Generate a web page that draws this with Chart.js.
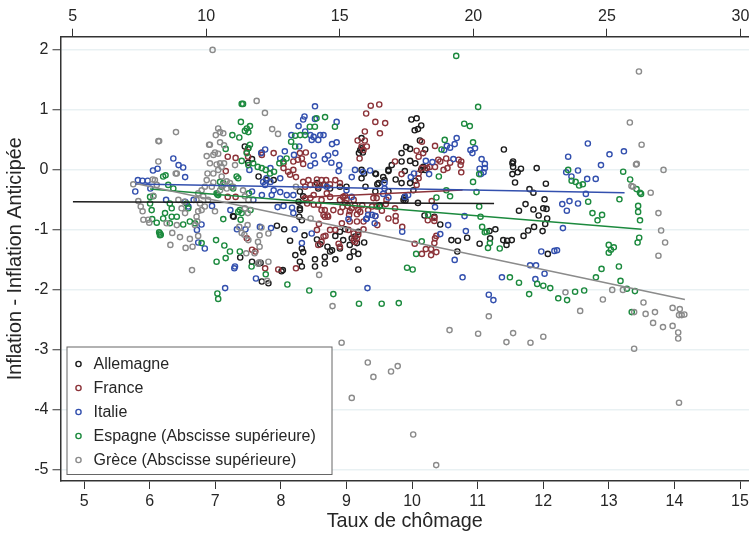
<!DOCTYPE html>
<html lang="fr">
<head>
  <meta charset="UTF-8" />
  <title>Inflation et chômage</title>
  <style>
    html, body { margin: 0; padding: 0; background: #fff; }
    canvas { display: block; }
  </style>
</head>
<body>
  <canvas id="graph" width="749" height="533"></canvas>
  <script src="https://cdn.jsdelivr.net/npm/chart.js"></script>
  <script>
    const noms = ["Allemagne", "France", "Italie", "Espagne (Abscisse supérieure)", "Grèce (Abscisse supérieure)"];
    const couleurs = ["#1c1c1c", "#8c3339", "#3350ae", "#1c8a3e", "#8b8b8b"];

    // [chômage, écart d'inflation]
    const allemagne = [[7.45,.38],[7.5,.35],[7.56,.17],[7.5,.11],[7.66,-.12],[7.78,-.18],[7.89,-.18],[7.28,-.79],[7.27,-.78],[7.94,-.94],[8.05,-1],[8.14,-1.19],[8.32,-.85],[8.29,-.68],[8.22,-1.43],[8.32,-1.32],[8.34,-1.38],[7.38,-1.47],[7.56,-1.54],[7.66,-1.57],[7.69,-1.56],[8.29,-1.54],[8.32,-1.62],[8.52,-1.62],[8.52,-1.5],[8.67,-1.46],[8.83,-1.5],[8.67,-1.57],[8.75,-1.37],[8.78,-1.35],[8.55,-1.17],[8.9,-1.32],[8.95,-1.18],[9.05,-1.26],[9.18,-1.67],[9.05,-1.46],[9.11,-1.37],[9.18,-1.41],[8.36,-1.1],[8.6,-1.25],[8.71,-1.29],[8.03,-1.68],[7.71,-1.87],[7.81,-1.9],[8.01,-1.7],[9.27,-1.22],[8.83,-1.11],[8.9,-1.04],[8.98,-1],[9.21,.32],[9.23,.35],[9.25,.28],[9.19,.27],[9.23,.52],[9.23,-.01],[9.27,-.07],[9.23,-.15],[9.44,-.07],[9.64,-.01],[9.69,.07],[9.56,-.13],[9.49,-.23],[9.75,-.17],[9.44,-.37],[9.51,-.6],[9.29,-.29],[8.55,-.23],[8.65,-.26],[8.57,-.32],[8.75,-.32],[9,-.29],[8.9,-.29],[8.29,-.37],[8.34,-.45],[8.27,-.54],[8.29,-.65],[8.28,-.79],[9.08,-1.15],[9.18,-1.04],[9.13,-1.12],[9.16,-1.23],[9.99,.83],[10.07,.85],[10.14,.73],[10.04,.65],[10.09,.67],[9.91,.37],[9.97,.34],[10.2,.33],[10.12,.48],[9.84,.27],[9.84,.13],[9.64,-.03],[9.58,-.18],[9.97,.14],[10.05,.1],[9.89,-.03],[9.84,-.23],[9.97,-.23],[10.05,-.19],[10.17,.04],[10.14,-.01],[10.2,-.01],[10.02,-.35],[9.47,-.25],[9.64,-.37],[9.89,-.46],[9.87,-.51],[10.09,-.56],[9.5,-.61],[10.19,-.77],[10.34,-.79],[10.43,-.92],[11.27,-1],[10.6,-1.18],[10.7,-1.19],[10.84,-1.14],[11.03,-1.24],[11.18,-1.03],[11.19,-1.15],[10.69,-1.37],[11.4,.33],[11.54,.13],[11.53,.1],[11.54,.04],[11.66,.01],[11.61,-.05],[11.53,-.08],[11.57,-.22],[11.9,.02],[12.04,-.24],[11.79,-.33],[11.85,-.39],[12.02,-.5],[11.73,-.58],[11.85,-.67],[11.63,-.69],[12,-.65],[12.05,-.66],[11.93,-.77],[12.06,-.82],[12.03,-.91],[11.99,-1.03],[11.86,-.96],[11.77,-1.02],[11.7,-1.11],[11.45,-1.19],[11.39,-1.18],[11.52,-1.18],[11.44,-1.26],[12.07,-1.41],[9.45,-.08],[9.88,-.48],[9.9,-.52]];

    const france = [[9.37,1.06],[9.5,1.08],[9.3,.93],[9.44,.79],[9.59,.77],[9.51,.6],[9.28,.63],[9.17,.48],[9.28,.48],[9.23,.38],[9.31,.38],[9.26,.32],[9.2,.18],[7.89,.27],[7.71,.28],[8.29,.27],[8.38,.28],[8.32,.18],[8.26,.16],[8.19,.13],[8.34,.09],[8.04,.1],[8.04,.02],[8.11,-.04],[8.19,-.01],[8.14,-.09],[8.23,-.13],[7.19,.21],[7.31,.19],[7.48,.29],[7.5,.21],[7.71,.24],[7.16,-.03],[7.19,-.46],[7.31,-.46],[7.48,-1.15],[7.56,-1.34],[7.61,-1.37],[7.76,-1.65],[7.96,-1.67],[8.23,-1.65],[8.34,-.21],[8.42,-.18],[8.55,-.17],[8.62,-.18],[8.69,-.18],[8.83,-.18],[8.9,-.23],[8.37,-.29],[8.45,-.26],[8.52,-.26],[8.57,-.29],[8.67,-.26],[8.75,-.25],[8.37,-.48],[8.45,-.48],[8.5,-.43],[8.4,-.57],[8.5,-.59],[8.62,-.51],[8.57,-.59],[8.75,-.46],[8.95,-.46],[8.7,-.4],[8.65,-.76],[8.71,-.77],[8.67,-.68],[8.9,-.51],[8.98,-.56],[9.02,-.61],[9.08,-.65],[8.94,-.63],[9.13,-.6],[9.05,-.7],[9.18,-.68],[9,-.51],[9.11,-.51],[8.91,-.71],[9.16,-.75],[9.04,-.76],[9.24,-.6],[8.98,-.44],[8.93,-.9],[9.16,-.87],[9.05,-.87],[9.64,-.82],[9.75,-.78],[9.75,-.86],[9.41,-.48],[9.46,-.48],[9.61,-.51],[9.46,-.62],[9.33,-.68],[9.21,-.71],[9.74,.13],[8.55,-1.01],[8.65,-1.12],[8.62,-1.21],[8.57,-1.26],[8.9,-1.29],[8.75,-1.01],[8.83,-1.01],[9.03,-1.01],[9.11,-1.07],[9.16,-1.15],[9.18,-1.09],[9.13,-1.21],[8.67,-.79],[8.72,-.79],[8.62,-.68],[8.8,-.68],[8.58,-.91],[8.68,-1.11],[8.88,-1.24],[9.11,-1.18],[10.35,.39],[10.15,.46],[10.07,.31],[10.1,.21],[10.17,.27],[9.84,-.08],[10.1,-.07],[10.15,.02],[10.23,.02],[10.27,.04],[10.1,-.15],[10.07,-.26],[10.4,.16],[10.43,.13],[10.52,.18],[10.58,.11],[10.54,.02],[10.48,-.01],[10.35,.04],[10.71,.16],[10.75,.13],[10.74,.07],[10.75,-.05],[10.3,-.53],[9.39,-.62],[9.54,-.69],[9.6,-.58],[9.74,-.65],[9.47,-.93],[9.26,-.87],[9.85,-.96],[10.24,-.85],[10.34,-.81],[10.34,-.86],[10.35,-1.15],[10.34,-1.23],[10.37,-1.11],[10.04,-1.24],[10.21,-1.33],[10.29,-1.33],[10.15,-1.41],[10.29,-1.43],[10.37,-1.38],[9.26,-1],[9.44,-.78]];

    const italie = [[5.78,-.37],[5.82,-.18],[5.89,-.19],[5.97,-.19],[6.01,-.32],[6.05,-.02],[6.12,.01],[6.36,.18],[6.44,.07],[6.51,.03],[6.54,-.13],[6.25,-.51],[6.54,-.54],[6.59,-.62],[6.67,-.51],[6.72,-1.01],[6.79,-.92],[6.74,-1.22],[6.84,-1.32],[6.95,-.61],[7.23,-.68],[7.33,-1],[7.46,-1],[7.68,-.96],[7.85,-.98],[8.21,-1],[8.47,-1.07],[8.32,-1.23],[9.03,-.83],[9.31,-.82],[9.39,-.76],[7.3,-1.62],[7.15,-1.98],[7.62,-1.82],[7.29,-1.65],[9.32,-1.98],[8.52,1.05],[8.36,.88],[8.34,.83],[8.52,.84],[8.27,.72],[8.85,.79],[8.37,.63],[8.45,.57],[8.5,.54],[8.47,.49],[8.57,.49],[8.6,.57],[8.65,.57],[8.16,.57],[8.78,.42],[8.85,.45],[8.28,.38],[8.06,.3],[7.76,.33],[7.7,.27],[8.2,.24],[8.5,.23],[7.99,.18],[8.72,.23],[8.83,.27],[8.67,.17],[8.77,.11],[8.45,.06],[8.52,.1],[8.89,.07],[8.88,-.03],[7.84,.02],[7.99,-.15],[7.52,-.01],[7.78,-.15],[7.73,-.21],[7.84,-.21],[7.76,-.26],[7.89,-.35],[7.86,-.43],[7.99,-.38],[8.09,-.43],[8.19,-.43],[7.56,-.37],[7.58,-.51],[7.71,-.43],[7.95,-.63],[8.04,-.61],[8.17,-.64],[8.19,-.73],[9.13,-.01],[9.08,-.13],[9.36,-.02],[9.25,-.04],[9.58,-.23],[9.58,-.32],[9.56,-.41],[9.08,-.46],[9.33,-.76],[9.3,-.83],[9.44,-.78],[9.43,-.9],[8.7,-.29],[9,-.35],[9.64,-.47],[9.94,-.43],[9.89,-.46],[10.35,-.63],[9.98,-.13],[10.03,-.07],[10.26,-.08],[10.21,.14],[10.31,.12],[10.63,.17],[10.53,.39],[10.49,.32],[10.58,.36],[10.65,.42],[10.68,.52],[10.89,.32],[10.96,.35],[10.92,.27],[11.06,.17],[11.11,.09],[11.11,.02],[11.03,.01],[11.09,-.05],[11.05,-.08],[10.8,-.78],[10.55,-.93],[10.43,-1.08],[10.82,-1.03],[10.65,-1.51],[9.85,-1.04],[10.77,-1.8],[11.37,-1.8],[11.17,-2.09],[11.24,-2.18],[11.97,-1.37],[11.8,-1.6],[11.89,-1.6],[12.02,-1.74],[11.88,-1.83],[12.68,.43],[12.38,.21],[13.01,.25],[13.23,.3],[12.88,.07],[12.53,-.02],[12.35,-.05],[12.43,-.12],[12.67,-.16],[12.8,-.16],[12.65,-.41],[12.29,-.58],[12.4,-.53],[12.53,-.57],[12.36,-.69],[12.3,-.98],[12.17,-1.36],[12.21,-1.35]];

    const espagne = [[11.33,1.09],[11.38,1.09],[11.3,.79],[11.64,.72],[11.52,.68],[11.58,.62],[11.45,.64],[10.98,.57],[11.24,.53],[10.73,.34],[11.64,.41],[11.58,.35],[11.52,.27],[11.33,.14],[11.58,.07],[11.76,.1],[11.93,.04],[12.08,.02],[12.23,-.01],[12.39,-.07],[12.54,-.04],[12.74,.1],[12.89,.13],[13.01,.18],[13.18,.46],[13.33,.38],[13.33,.56],[13.52,.57],[13.7,.57],[13.88,.71],[14.07,.71],[14.13,.85],[14.45,.87],[14.82,.71],[8.48,-.1],[8.39,-.12],[8.58,-.26],[8.77,-.32],[7.9,-.46],[8.02,-.45],[7.9,-.57],[7.96,-.68],[8.15,-.89],[7.98,-.83],[8.27,-1.07],[8.3,-1.09],[8.24,-1.05],[8.27,-1.1],[8.39,-.82],[8.46,-.73],[8.71,-.65],[8.64,-.57],[8.71,-.79],[8.9,-.79],[8.64,-.9],[9.14,-.92],[9.39,-.87],[9.58,-.9],[9.33,-.65],[9.27,-.57],[9.83,-1.23],[10.45,-.43],[10.39,-.4],[10.42,-.42],[10.64,-.23],[10.52,-.21],[10.58,-.29],[10.64,-.83],[10.37,-1.18],[10.68,-1.27],[10.89,-1.37],[10.73,-1.48],[10.39,-1.54],[11.01,-.32],[10.95,-.29],[11.14,-.12],[11.2,-.15],[11.26,-.68],[11.33,-.73],[11.2,-.71],[11.29,-.84],[11.26,-1.37],[11.7,-1.62],[11.6,-.4],[11.66,-.68],[12.23,-1.75],[10.42,-2.07],[10.45,-2.16],[13.04,-1.92],[13.86,-2.02],[14.76,-2.08],[15.72,-2.24],[16.57,-2.24],[17.21,-2.23],[20.18,1.04],[19.36,1.89],[19.66,.76],[19.87,.72],[18.93,.49],[19.99,.45],[18.81,.33],[18.71,-.12],[20.22,-.08],[19.99,-.21],[18.99,-.35],[19.13,-.45],[20.12,-.38],[18.62,-.47],[20.22,-.62],[20.27,-.79],[18.31,-.76],[20.33,-.96],[20.43,-1.05],[20.5,-1.04],[20.62,-1.23],[20.55,-1.31],[20.99,-1.32],[18.07,-1.2],[17.86,-1.41],[17.52,-1.64],[17.73,-1.67],[16.47,-.62],[23.55,-.01],[23.68,-.19],[23.83,-.21],[23.96,-.27],[24.1,-.25],[24.3,-.54],[24.46,-.73],[24.82,-.76],[24.65,-.85],[25.47,-.5],[25.61,-.04],[25.87,-.17],[26.11,-.33],[26.24,-.39],[26.28,-.41],[26.17,-.61],[26.17,-.71],[26.24,-.85],[26.21,-1.14],[26.15,-1.22],[25.07,-1.26],[25.26,-1.3],[25.15,-1.34],[25.07,-1.39],[24.8,-1.66],[25.45,-1.62],[21.37,-1.8],[21.71,-1.89],[22.09,-2.08],[22.39,-1.91],[22.62,-1.94],[22.88,-1.98],[23.18,-2.15],[23.51,-2.18],[23.81,-2.04],[24.15,-2.02],[24.59,-1.8],[25.51,-1.86],[25.75,-1.99],[26.05,-2.03],[25.93,-2.38]];

    const grece = [[10.24,1.99],[11.89,1.14],[12.2,.94],[12.47,.67],[12.69,.59],[8.87,.62],[8.21,.47],[8.24,.47],[8.21,.13],[8.86,-.07],[8.9,-.07],[7.27,-.25],[7.46,-.53],[7.55,-.62],[7.62,-.7],[7.65,-.84],[7.83,-.84],[7.87,-.89],[8.02,-.44],[8.08,-.18],[8,-.17],[8.15,-.26],[8.52,-.9],[8.73,-1.06],[8.66,-1.26],[9.02,-1.13],[9.39,-1.16],[9.23,-1.31],[9.49,-1.29],[9.7,-1.11],[9.47,-1.68],[8.9,-.93],[8.96,-.51],[9.18,-.54],[9.08,-.65],[9.21,-.73],[9.64,-.79],[9.67,-.87],[9.58,-.93],[9.83,-.68],[9.95,-.62],[9.7,-.7],[9.77,-.57],[9.64,-.51],[9.7,-.4],[9.89,-.45],[10.07,-.51],[10.33,-.7],[10.45,.68],[10.52,.62],[10.64,.6],[10.36,.57],[10.52,.45],[10.67,.4],[10.11,.41],[10.14,.41],[10.02,.22],[10.27,.24],[10.33,.28],[10.45,.26],[10.14,.1],[10.39,.08],[10.52,.1],[10.67,.1],[10.58,.04],[10.45,-.01],[10.27,-.07],[10.05,-.07],[10.02,-.18],[10.27,-.22],[10.21,-.29],[9.95,-.29],[9.83,-.35],[10.58,-.12],[10.77,-.2],[10.64,-.26],[10.89,-.23],[10.77,-.32],[11.01,-.29],[10.52,-.35],[11.08,.07],[11.45,-.45],[11.58,-.51],[11.45,-.65],[11.56,-.73],[11.38,-.35],[11.55,-.93],[11.24,-.96],[11.33,-1.06],[11.43,-1.09],[11.58,-1.18],[12.07,-.97],[12,-1.1],[11.94,-1.21],[12,-1.29],[11.81,-1.4],[11.5,-1.4],[12.33,-1.54],[11.94,-1.57],[13.36,-.29],[13.91,-.82],[12.33,-1.07],[11.99,-1.55],[12.28,-1.86],[14.23,-1.76],[14.73,-2.28],[15.07,-2.89],[16.05,-3.22],[15.45,-3.81],[16.26,-3.46],[16.92,-3.37],[17.17,-3.28],[17.75,-4.42],[18.61,-4.93],[19.11,-2.68],[20.18,-2.74],[21.49,-2.73],[21.24,-2.88],[22.14,-2.89],[22.62,-2.79],[20.58,-2.45],[23.45,-2.05],[24,-2.36],[24.85,-2.17],[25.2,-2.01],[25.6,-2.01],[26.02,-2.38],[26.02,-2.99],[26.37,-2.22],[26.45,-2.41],[26.8,-2.38],[26.73,-2.56],[27.1,-2.63],[27.46,-2.31],[27.73,-2.33],[27.46,-2.61],[27.67,-2.72],[27.67,-2.82],[27.7,-3.89],[27.7,-2.43],[27.8,-2.43],[27.9,-2.42],[26.2,1.63],[25.86,.78],[26.3,.41],[26.09,.08],[26.12,.09],[27.12,-.01],[25.92,-.28],[25.98,-.29],[26.64,-.39],[26.93,-.73],[27.03,-1.02],[27.18,-1.22],[26.93,-1.44]];

    const series = [allemagne, france, italie, espagne, grece];
    // droites d'ajustement, [x debut, y debut, x fin, y fin]
    const droites = [[4.83,-.54,11.25,-.57],[8.3,-.47,10.77,-.345],[5.78,-.245,13.24,-.39],[7.9,-.33,26.3,-1],[7.4,-.24,27.92,-2.17]];
    const axesX = ["basse", "basse", "basse", "haute", "haute"];

    const ticksColor = "#333";
    const texte = "#262626";
    const police = "'Liberation Sans', Arial, sans-serif";

    const datasets = [];
    series.forEach((s, i) => {
      datasets.push({
        label: noms[i],
        data: s.map(p => ({ x: p[0], y: p[1] })),
        xAxisID: axesX[i],
        showLine: false,
        pointRadius: 2.6,
        pointBorderWidth: 1.4,
        pointBackgroundColor: "rgba(0,0,0,0)",
        pointBorderColor: couleurs[i],
        order: 20 - i
      });
    });
    droites.forEach((d, i) => {
      datasets.push({
        label: "Ajustement " + noms[i],
        data: [{ x: d[0], y: d[1] }, { x: d[2], y: d[3] }],
        xAxisID: axesX[i],
        showLine: true,
        borderColor: couleurs[i],
        borderWidth: 1.5,
        pointRadius: 0,
        order: 10 - i
      });
    });

    // legende dans le graphique, en bas a gauche
    const legende = {
      id: "legende",
      afterDraw(chart) {
        const c = chart.ctx;
        c.save();
        c.fillStyle = "#fff";
        c.strokeStyle = "#666";
        c.lineWidth = 1;
        c.fillRect(67, 347, 265, 127.5);
        c.strokeRect(67, 347, 265, 127.5);
        c.font = "16px " + police;
        c.textBaseline = "middle";
        noms.forEach((nom, i) => {
          const y = 364 + i * 24;
          c.beginPath();
          c.arc(78.5, y, 2.6, 0, Math.PI * 2);
          c.strokeStyle = couleurs[i];
          c.lineWidth = 1.4;
          c.stroke();
          c.fillStyle = texte;
          c.fillText(nom, 93.5, y + 0.5);
        });
        c.restore();
      }
    };

    function axeX(pos, min, max, pas, hauteur) {
      return {
        type: "linear",
        position: pos,
        min: min,
        max: max,
        afterFit(s) { s.height = hauteur; s.paddingLeft = 0; s.paddingRight = 0; },
        border: { color: ticksColor, width: 1.5 },
        grid: { drawOnChartArea: false, drawTicks: true, tickLength: 8, tickColor: ticksColor, tickWidth: 1 },
        ticks: {
          stepSize: pas,
          includeBounds: false,
          autoSkip: false,
          maxRotation: 0,
          color: texte,
          padding: 3,
          font: { size: 16, family: police }
        }
      };
    }

    new Chart(document.getElementById("graph"), {
      type: "scatter",
      data: { datasets: datasets },
      options: {
        responsive: false,
        animation: false,
        layout: { padding: 0, autoPadding: false },
        plugins: { legend: { display: false }, tooltip: { enabled: false } },
        scales: {
          basse: Object.assign(axeX("bottom", 4.64, 15.137, 1, 52), {
            title: { display: true, text: "Taux de chômage", color: texte, font: { size: 19.8, family: police }, padding: { top: 0, bottom: 0 } }
          }),
          haute: axeX("top", 4.547, 30.32, 5, 36.7),
          y: {
            type: "linear",
            position: "left",
            min: -5.195,
            max: 2.21,
            afterFit(s) { s.width = 60.5; s.paddingTop = 0; s.paddingBottom = 0; },
            border: { color: ticksColor, width: 1.5 },
            grid: { color: "#e9f1f3", lineWidth: 1.5, tickLength: 8, tickColor: ticksColor, tickWidth: 1 },
            ticks: {
              stepSize: 1,
              includeBounds: false,
              color: texte,
              padding: 4,
              font: { size: 16, family: police }
            },
            title: { display: true, text: "Inflation - Inflation Anticipée", color: texte, font: { size: 19.8, family: police }, padding: { top: 4, bottom: 0 } }
          }
        }
      },
      plugins: [legende]
    });
  </script>
</body>
</html>
